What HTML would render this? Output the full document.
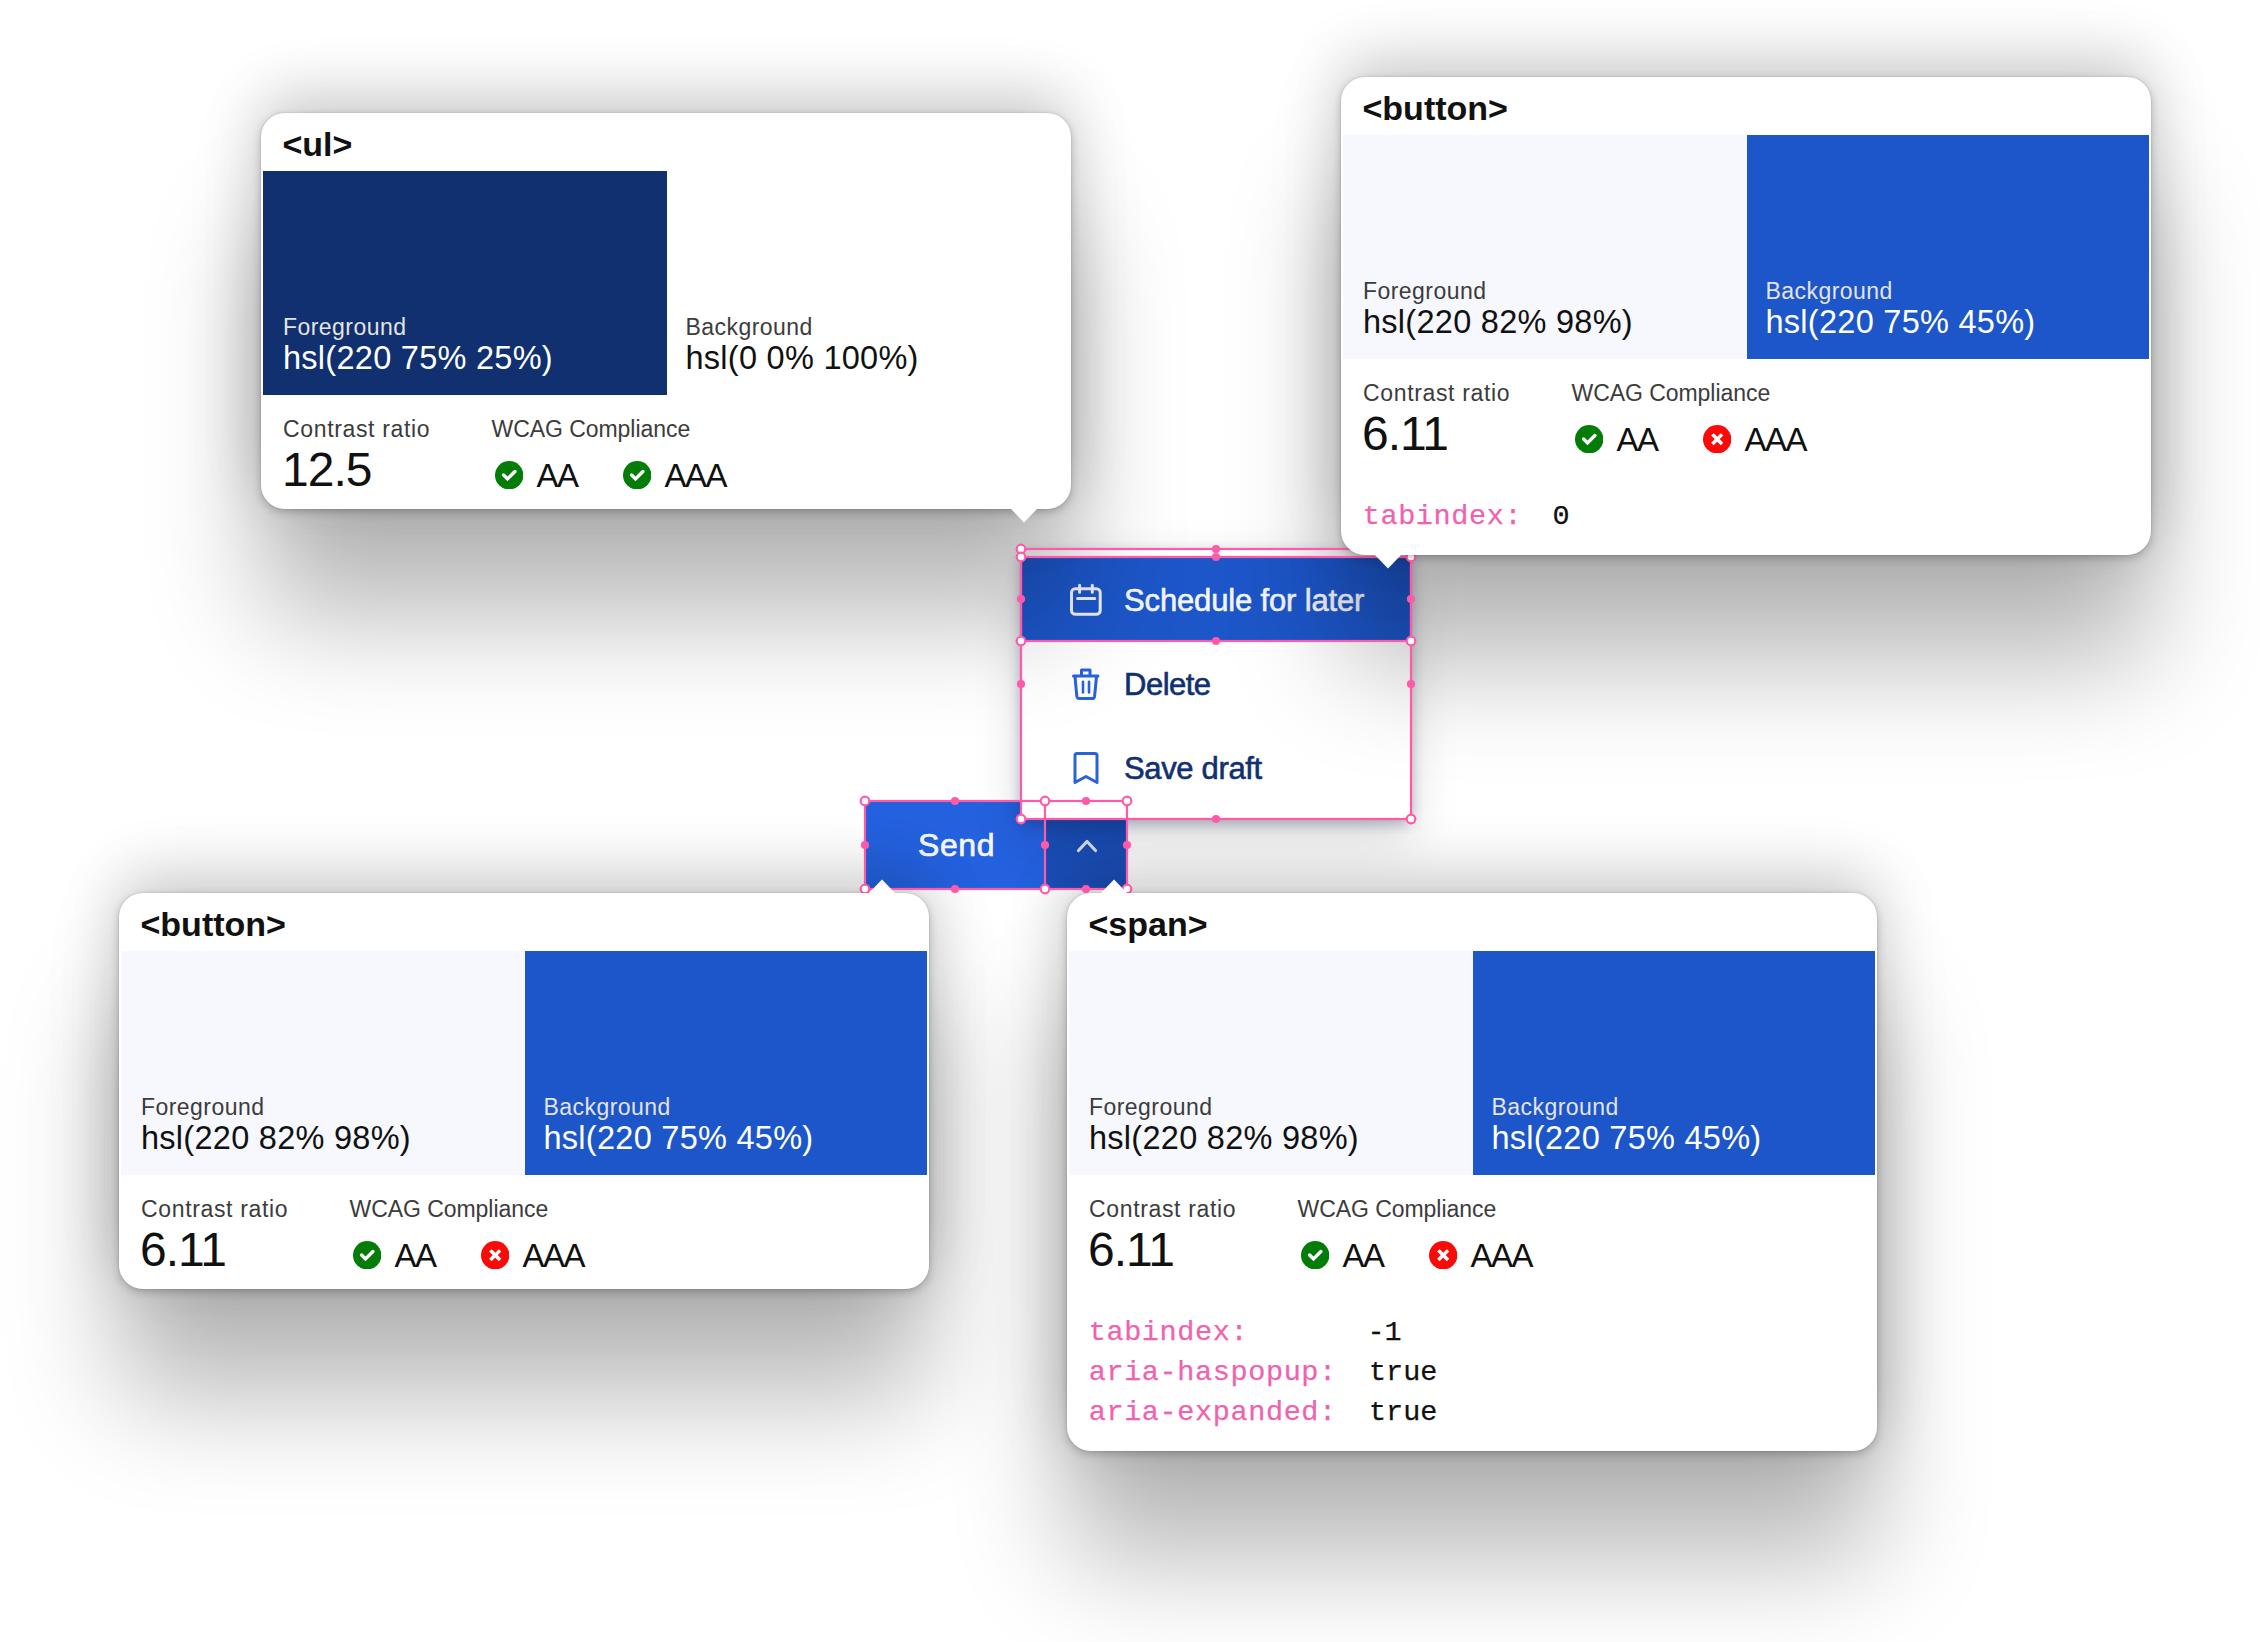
<!DOCTYPE html>
<html><head><meta charset="utf-8"><style>
html,body{margin:0;padding:0;}
body{width:2260px;height:1642px;position:relative;overflow:hidden;background:#fff;font-family:'Liberation Sans', sans-serif;}
.abs{position:absolute;}
.t{position:absolute;white-space:pre;}
.card{position:absolute;background:#fff;border-radius:24px;box-shadow:0 0 1.5px rgba(0,0,0,0.25), 0 3px 8px rgba(0,0,0,0.22);}
.menu{position:absolute;background:#fff;border-radius:7px;box-shadow:0 5px 14px rgba(20,35,80,0.32), 0 18px 50px rgba(0,0,0,0.14);}
</style></head><body>
<div class="abs" style="left:865px;top:801px;width:262px;height:88px;border-radius:7px;overflow:hidden;"><div class="abs" style="left:0;top:0;width:180px;height:88px;background:#2461de"></div><div class="abs" style="left:180px;top:0;width:82px;height:88px;background:#1b4eb8"></div></div>
<div class="t" style="left:918.00px;top:829.41px;font-size:32px;line-height:32px;color:#f4f6fc;font-weight:400;font-family:'Liberation Sans', sans-serif;letter-spacing:0.6px;-webkit-text-stroke:0.7px #f4f6fc;">Send</div>
<svg class="abs" style="left:1070px;top:830px" width="40" height="30"><path d="M8.5 20.5 L17 11.5 L25.5 20.5" fill="none" stroke="#dfe3ee" stroke-width="3.2" stroke-linecap="round" stroke-linejoin="round"/></svg>
<div class="menu" style="left:1021px;top:549px;width:390px;height:270px;"></div>
<div class="abs" style="left:1021px;top:557px;width:390px;height:84px;background:#1d56c9"></div>
<svg class="abs" style="left:1060px;top:575px" width="50" height="50"><rect x="11.5" y="13.7" width="28.7" height="25.6" rx="3.8" fill="none" stroke="#eef1f8" stroke-width="3"/><path d="M19.6 10.2 V17.2 M32.3 10.2 V17.2 M17.6 23.4 H34.8" fill="none" stroke="#eef1f8" stroke-width="3" stroke-linecap="round"/></svg>
<div class="t" style="left:1124.00px;top:585.25px;font-size:31px;line-height:31px;color:#f4f6fc;font-weight:400;font-family:'Liberation Sans', sans-serif;letter-spacing:-0.15px;-webkit-text-stroke:0.6px #f4f6fc;">Schedule for later</div>
<svg class="abs" style="left:1060px;top:660px" width="50" height="50"><path d="M13.5 16 H38" fill="none" stroke="#2a62dc" stroke-width="3" stroke-linecap="round"/><path d="M21.5 15.5 V10 H30 V15.5" fill="none" stroke="#2a62dc" stroke-width="3" stroke-linejoin="round"/><path d="M15 16.5 L16.8 36.2 Q17.2 38.5 19.5 38.5 H32 Q34.3 38.5 34.6 36.2 L36.5 16.5" fill="none" stroke="#2a62dc" stroke-width="3" stroke-linejoin="round"/><path d="M23 21.8 V32.4 M29 21.8 V32.4" fill="none" stroke="#2a62dc" stroke-width="2.6" stroke-linecap="round"/></svg>
<div class="t" style="left:1124.00px;top:669.25px;font-size:31px;line-height:31px;color:#103070;font-weight:400;font-family:'Liberation Sans', sans-serif;letter-spacing:-0.5px;-webkit-text-stroke:0.6px #103070;">Delete</div>
<svg class="abs" style="left:1060px;top:745px" width="50" height="50"><path d="M15 37.5 V10.5 Q15 8.5 17 8.5 H35 Q37 8.5 37 10.5 V37.5 L26 31.5 Z" fill="none" stroke="#2a62dc" stroke-width="3" stroke-linejoin="round"/></svg>
<div class="t" style="left:1124.00px;top:753.25px;font-size:31px;line-height:31px;color:#103070;font-weight:400;font-family:'Liberation Sans', sans-serif;letter-spacing:-0.35px;-webkit-text-stroke:0.6px #103070;">Save draft</div>
<div class="abs" style="left:261px;top:113px;width:810px;height:396px;border-radius:24px;box-shadow:0 -20px 60px rgba(0,0,0,0.15), 0 0 80px rgba(0,0,0,0.10), 0 110px 112px rgba(0,0,0,0.27);"></div>
<div class="abs" style="left:1341px;top:77px;width:810px;height:478px;border-radius:24px;box-shadow:0 -20px 60px rgba(0,0,0,0.15), 0 0 80px rgba(0,0,0,0.10), 0 110px 112px rgba(0,0,0,0.27);"></div>
<div class="abs" style="left:119px;top:893px;width:810px;height:396px;border-radius:24px;box-shadow:0 -20px 60px rgba(0,0,0,0.15), 0 0 80px rgba(0,0,0,0.10), 0 110px 112px rgba(0,0,0,0.27);"></div>
<div class="abs" style="left:1067px;top:893px;width:810px;height:558px;border-radius:24px;box-shadow:0 -20px 60px rgba(0,0,0,0.15), 0 0 80px rgba(0,0,0,0.10), 0 110px 112px rgba(0,0,0,0.27);"></div>
<svg class="abs" style="left:0;top:0" width="2260" height="1642"><defs><mask id="hm" maskUnits="userSpaceOnUse" x="0" y="0" width="2260" height="1642"><rect x="0" y="0" width="2260" height="1642" fill="#fff"/><circle cx="1021" cy="549" r="3.6" fill="#000"/><circle cx="1411" cy="549" r="3.6" fill="#000"/><circle cx="1021" cy="819" r="3.6" fill="#000"/><circle cx="1411" cy="819" r="3.6" fill="#000"/><circle cx="1021" cy="557" r="3.6" fill="#000"/><circle cx="1411" cy="557" r="3.6" fill="#000"/><circle cx="1021" cy="641" r="3.6" fill="#000"/><circle cx="1411" cy="641" r="3.6" fill="#000"/><circle cx="865" cy="801" r="3.6" fill="#000"/><circle cx="1045" cy="801" r="3.6" fill="#000"/><circle cx="1127" cy="801" r="3.6" fill="#000"/><circle cx="865" cy="889" r="3.6" fill="#000"/><circle cx="1045" cy="889" r="3.6" fill="#000"/><circle cx="1127" cy="889" r="3.6" fill="#000"/></mask></defs><g mask="url(#hm)"><rect x="1021" y="549" width="390" height="270" fill="none" stroke="#ff5aa9" stroke-width="2.2"/><rect x="1021" y="557" width="390" height="84" fill="none" stroke="#ff5aa9" stroke-width="2.2"/><rect x="865" y="801" width="262" height="88" fill="none" stroke="#ff5aa9" stroke-width="2.2"/><line x1="1045" y1="801" x2="1045" y2="889" stroke="#ff5aa9" stroke-width="2.2"/></g><circle cx="1216" cy="549" r="4.1" fill="#ff5aa9"/><circle cx="1021" cy="684" r="4.1" fill="#ff5aa9"/><circle cx="1411" cy="684" r="4.1" fill="#ff5aa9"/><circle cx="1216" cy="819" r="4.1" fill="#ff5aa9"/><circle cx="1216" cy="557" r="4.1" fill="#ff5aa9"/><circle cx="1021" cy="599" r="4.1" fill="#ff5aa9"/><circle cx="1411" cy="599" r="4.1" fill="#ff5aa9"/><circle cx="1216" cy="641" r="4.1" fill="#ff5aa9"/><circle cx="955" cy="801" r="4.1" fill="#ff5aa9"/><circle cx="1086" cy="801" r="4.1" fill="#ff5aa9"/><circle cx="955" cy="889" r="4.1" fill="#ff5aa9"/><circle cx="1086" cy="889" r="4.1" fill="#ff5aa9"/><circle cx="865" cy="845" r="4.1" fill="#ff5aa9"/><circle cx="1045" cy="845" r="4.1" fill="#ff5aa9"/><circle cx="1127" cy="845" r="4.1" fill="#ff5aa9"/><circle cx="1021" cy="549" r="4.3" fill="#fff" stroke="#ff5aa9" stroke-width="2.2"/><circle cx="1411" cy="549" r="4.3" fill="#fff" stroke="#ff5aa9" stroke-width="2.2"/><circle cx="1021" cy="819" r="4.3" fill="#fff" stroke="#ff5aa9" stroke-width="2.2"/><circle cx="1411" cy="819" r="4.3" fill="#fff" stroke="#ff5aa9" stroke-width="2.2"/><circle cx="1021" cy="557" r="4.3" fill="#fff" stroke="#ff5aa9" stroke-width="2.2"/><circle cx="1411" cy="557" r="4.3" fill="#fff" stroke="#ff5aa9" stroke-width="2.2"/><circle cx="1021" cy="641" r="4.3" fill="#fff" stroke="#ff5aa9" stroke-width="2.2"/><circle cx="1411" cy="641" r="4.3" fill="#fff" stroke="#ff5aa9" stroke-width="2.2"/><circle cx="865" cy="801" r="4.3" fill="#fff" stroke="#ff5aa9" stroke-width="2.2"/><circle cx="1045" cy="801" r="4.3" fill="#fff" stroke="#ff5aa9" stroke-width="2.2"/><circle cx="1127" cy="801" r="4.3" fill="#fff" stroke="#ff5aa9" stroke-width="2.2"/><circle cx="865" cy="889" r="4.3" fill="#fff" stroke="#ff5aa9" stroke-width="2.2"/><circle cx="1045" cy="889" r="4.3" fill="#fff" stroke="#ff5aa9" stroke-width="2.2"/><circle cx="1127" cy="889" r="4.3" fill="#fff" stroke="#ff5aa9" stroke-width="2.2"/></svg>
<div class="card" style="left:261px;top:113px;width:810px;height:396px;"></div>
<svg class="abs" style="left:1010px;top:508px" width="28" height="16"><path d="M0 0 L28 0 L14 14.5 Z" fill="#fff"/></svg>
<div class="t" style="left:282.50px;top:126.71px;font-size:34px;line-height:34px;color:#111;font-weight:700;font-family:'Liberation Sans', sans-serif;letter-spacing:0px;">&lt;ul&gt;</div>
<div class="abs" style="left:263px;top:171px;width:404px;height:224px;background:#103070"></div>
<div class="abs" style="left:667px;top:171px;width:402px;height:224px;background:#ffffff"></div>
<div class="t" style="left:283.00px;top:315.53px;font-size:23px;line-height:23px;color:#e4e3e0;font-weight:400;font-family:'Liberation Sans', sans-serif;letter-spacing:0.45px;">Foreground</div>
<div class="t" style="left:283.00px;top:341.98px;font-size:32.5px;line-height:32.5px;color:#ffffff;font-weight:400;font-family:'Liberation Sans', sans-serif;letter-spacing:0.27px;">hsl(220 75% 25%)</div>
<div class="t" style="left:685.50px;top:315.53px;font-size:23px;line-height:23px;color:#3c3c3c;font-weight:400;font-family:'Liberation Sans', sans-serif;letter-spacing:0.45px;">Background</div>
<div class="t" style="left:685.50px;top:341.98px;font-size:32.5px;line-height:32.5px;color:#111111;font-weight:400;font-family:'Liberation Sans', sans-serif;letter-spacing:0.27px;">hsl(0 0% 100%)</div>
<div class="t" style="left:283.00px;top:417.53px;font-size:23px;line-height:23px;color:#3c3c3c;font-weight:400;font-family:'Liberation Sans', sans-serif;letter-spacing:0.65px;">Contrast ratio</div>
<div class="t" style="left:282.00px;top:446.36px;font-size:48px;line-height:48px;color:#111;font-weight:400;font-family:'Liberation Sans', sans-serif;letter-spacing:-1px;">12.5</div>
<div class="t" style="left:491.50px;top:417.53px;font-size:23px;line-height:23px;color:#3c3c3c;font-weight:400;font-family:'Liberation Sans', sans-serif;letter-spacing:-0.05px;">WCAG Compliance</div>
<svg class="abs" style="left:494.5px;top:460.5px" width="28.4" height="28.4"><circle cx="14.2" cy="14.2" r="14.2" fill="#047d08"/><path d="M8.6 14.0 L12.5 17.9 L19.9 10.5" fill="none" stroke="#fff" stroke-width="3.4" stroke-linecap="round" stroke-linejoin="miter"/></svg>
<svg class="abs" style="left:622.5px;top:460.5px" width="28.4" height="28.4"><circle cx="14.2" cy="14.2" r="14.2" fill="#047d08"/><path d="M8.6 14.0 L12.5 17.9 L19.9 10.5" fill="none" stroke="#fff" stroke-width="3.4" stroke-linecap="round" stroke-linejoin="miter"/></svg>
<div class="t" style="left:536.50px;top:459.06px;font-size:33px;line-height:33px;color:#111;font-weight:400;font-family:'Liberation Sans', sans-serif;letter-spacing:-1.5px;">AA</div>
<div class="t" style="left:664.50px;top:459.06px;font-size:33px;line-height:33px;color:#111;font-weight:400;font-family:'Liberation Sans', sans-serif;letter-spacing:-1.5px;">AAA</div>
<div class="card" style="left:1341px;top:77px;width:810px;height:478px;"></div>
<svg class="abs" style="left:1374px;top:554px" width="28" height="16"><path d="M0 0 L28 0 L14 14.5 Z" fill="#fff"/></svg>
<div class="t" style="left:1362.50px;top:90.71px;font-size:34px;line-height:34px;color:#111;font-weight:700;font-family:'Liberation Sans', sans-serif;letter-spacing:0px;">&lt;button&gt;</div>
<div class="abs" style="left:1343px;top:135px;width:404px;height:224px;background:#f6f8fe"></div>
<div class="abs" style="left:1747px;top:135px;width:402px;height:224px;background:#1d56c9"></div>
<div class="t" style="left:1363.00px;top:279.53px;font-size:23px;line-height:23px;color:#3c3c3c;font-weight:400;font-family:'Liberation Sans', sans-serif;letter-spacing:0.45px;">Foreground</div>
<div class="t" style="left:1363.00px;top:305.98px;font-size:32.5px;line-height:32.5px;color:#111111;font-weight:400;font-family:'Liberation Sans', sans-serif;letter-spacing:0.27px;">hsl(220 82% 98%)</div>
<div class="t" style="left:1765.50px;top:279.53px;font-size:23px;line-height:23px;color:#e4e3e0;font-weight:400;font-family:'Liberation Sans', sans-serif;letter-spacing:0.45px;">Background</div>
<div class="t" style="left:1765.50px;top:305.98px;font-size:32.5px;line-height:32.5px;color:#ffffff;font-weight:400;font-family:'Liberation Sans', sans-serif;letter-spacing:0.27px;">hsl(220 75% 45%)</div>
<div class="t" style="left:1363.00px;top:381.53px;font-size:23px;line-height:23px;color:#3c3c3c;font-weight:400;font-family:'Liberation Sans', sans-serif;letter-spacing:0.65px;">Contrast ratio</div>
<div class="t" style="left:1362.00px;top:410.36px;font-size:48px;line-height:48px;color:#111;font-weight:400;font-family:'Liberation Sans', sans-serif;letter-spacing:-1px;">6.11</div>
<div class="t" style="left:1571.50px;top:381.53px;font-size:23px;line-height:23px;color:#3c3c3c;font-weight:400;font-family:'Liberation Sans', sans-serif;letter-spacing:-0.05px;">WCAG Compliance</div>
<svg class="abs" style="left:1574.5px;top:424.5px" width="28.4" height="28.4"><circle cx="14.2" cy="14.2" r="14.2" fill="#047d08"/><path d="M8.6 14.0 L12.5 17.9 L19.9 10.5" fill="none" stroke="#fff" stroke-width="3.4" stroke-linecap="round" stroke-linejoin="miter"/></svg>
<svg class="abs" style="left:1702.5px;top:424.5px" width="28.4" height="28.4"><circle cx="14.2" cy="14.2" r="14.2" fill="#fb0a0a"/><path d="M10.6 10.6 L17.8 17.8 M17.8 10.6 L10.6 17.8" fill="none" stroke="#fff" stroke-width="3.5" stroke-linecap="square"/></svg>
<div class="t" style="left:1616.50px;top:423.06px;font-size:33px;line-height:33px;color:#111;font-weight:400;font-family:'Liberation Sans', sans-serif;letter-spacing:-1.5px;">AA</div>
<div class="t" style="left:1744.50px;top:423.06px;font-size:33px;line-height:33px;color:#111;font-weight:400;font-family:'Liberation Sans', sans-serif;letter-spacing:-1.5px;">AAA</div>
<div class="t" style="left:1362.70px;top:502.67px;font-size:28.5px;line-height:28.5px;color:#f062ae;font-weight:400;font-family:'Liberation Mono', monospace;letter-spacing:0.62px;-webkit-text-stroke:0.25px #f062ae;">tabindex:</div>
<div class="t" style="left:1552.50px;top:502.67px;font-size:28.5px;line-height:28.5px;color:#111;font-weight:400;font-family:'Liberation Mono', monospace;letter-spacing:0px;-webkit-text-stroke:0.25px #111;">0</div>
<div class="card" style="left:119px;top:893px;width:810px;height:396px;"></div>
<svg class="abs" style="left:868px;top:878px" width="28" height="16"><path d="M0 16 L28 16 L14 1.5 Z" fill="#fff"/></svg>
<div class="t" style="left:140.50px;top:906.71px;font-size:34px;line-height:34px;color:#111;font-weight:700;font-family:'Liberation Sans', sans-serif;letter-spacing:0px;">&lt;button&gt;</div>
<div class="abs" style="left:121px;top:951px;width:404px;height:224px;background:#f6f8fe"></div>
<div class="abs" style="left:525px;top:951px;width:402px;height:224px;background:#1d56c9"></div>
<div class="t" style="left:141.00px;top:1095.53px;font-size:23px;line-height:23px;color:#3c3c3c;font-weight:400;font-family:'Liberation Sans', sans-serif;letter-spacing:0.45px;">Foreground</div>
<div class="t" style="left:141.00px;top:1121.98px;font-size:32.5px;line-height:32.5px;color:#111111;font-weight:400;font-family:'Liberation Sans', sans-serif;letter-spacing:0.27px;">hsl(220 82% 98%)</div>
<div class="t" style="left:543.50px;top:1095.53px;font-size:23px;line-height:23px;color:#e4e3e0;font-weight:400;font-family:'Liberation Sans', sans-serif;letter-spacing:0.45px;">Background</div>
<div class="t" style="left:543.50px;top:1121.98px;font-size:32.5px;line-height:32.5px;color:#ffffff;font-weight:400;font-family:'Liberation Sans', sans-serif;letter-spacing:0.27px;">hsl(220 75% 45%)</div>
<div class="t" style="left:141.00px;top:1197.53px;font-size:23px;line-height:23px;color:#3c3c3c;font-weight:400;font-family:'Liberation Sans', sans-serif;letter-spacing:0.65px;">Contrast ratio</div>
<div class="t" style="left:140.00px;top:1226.36px;font-size:48px;line-height:48px;color:#111;font-weight:400;font-family:'Liberation Sans', sans-serif;letter-spacing:-1px;">6.11</div>
<div class="t" style="left:349.50px;top:1197.53px;font-size:23px;line-height:23px;color:#3c3c3c;font-weight:400;font-family:'Liberation Sans', sans-serif;letter-spacing:-0.05px;">WCAG Compliance</div>
<svg class="abs" style="left:352.5px;top:1240.5px" width="28.4" height="28.4"><circle cx="14.2" cy="14.2" r="14.2" fill="#047d08"/><path d="M8.6 14.0 L12.5 17.9 L19.9 10.5" fill="none" stroke="#fff" stroke-width="3.4" stroke-linecap="round" stroke-linejoin="miter"/></svg>
<svg class="abs" style="left:480.5px;top:1240.5px" width="28.4" height="28.4"><circle cx="14.2" cy="14.2" r="14.2" fill="#fb0a0a"/><path d="M10.6 10.6 L17.8 17.8 M17.8 10.6 L10.6 17.8" fill="none" stroke="#fff" stroke-width="3.5" stroke-linecap="square"/></svg>
<div class="t" style="left:394.50px;top:1239.06px;font-size:33px;line-height:33px;color:#111;font-weight:400;font-family:'Liberation Sans', sans-serif;letter-spacing:-1.5px;">AA</div>
<div class="t" style="left:522.50px;top:1239.06px;font-size:33px;line-height:33px;color:#111;font-weight:400;font-family:'Liberation Sans', sans-serif;letter-spacing:-1.5px;">AAA</div>
<div class="card" style="left:1067px;top:893px;width:810px;height:558px;"></div>
<svg class="abs" style="left:1100px;top:878px" width="28" height="16"><path d="M0 16 L28 16 L14 1.5 Z" fill="#fff"/></svg>
<div class="t" style="left:1088.50px;top:906.71px;font-size:34px;line-height:34px;color:#111;font-weight:700;font-family:'Liberation Sans', sans-serif;letter-spacing:0px;">&lt;span&gt;</div>
<div class="abs" style="left:1069px;top:951px;width:404px;height:224px;background:#f6f8fe"></div>
<div class="abs" style="left:1473px;top:951px;width:402px;height:224px;background:#1d56c9"></div>
<div class="t" style="left:1089.00px;top:1095.53px;font-size:23px;line-height:23px;color:#3c3c3c;font-weight:400;font-family:'Liberation Sans', sans-serif;letter-spacing:0.45px;">Foreground</div>
<div class="t" style="left:1089.00px;top:1121.98px;font-size:32.5px;line-height:32.5px;color:#111111;font-weight:400;font-family:'Liberation Sans', sans-serif;letter-spacing:0.27px;">hsl(220 82% 98%)</div>
<div class="t" style="left:1491.50px;top:1095.53px;font-size:23px;line-height:23px;color:#e4e3e0;font-weight:400;font-family:'Liberation Sans', sans-serif;letter-spacing:0.45px;">Background</div>
<div class="t" style="left:1491.50px;top:1121.98px;font-size:32.5px;line-height:32.5px;color:#ffffff;font-weight:400;font-family:'Liberation Sans', sans-serif;letter-spacing:0.27px;">hsl(220 75% 45%)</div>
<div class="t" style="left:1089.00px;top:1197.53px;font-size:23px;line-height:23px;color:#3c3c3c;font-weight:400;font-family:'Liberation Sans', sans-serif;letter-spacing:0.65px;">Contrast ratio</div>
<div class="t" style="left:1088.00px;top:1226.36px;font-size:48px;line-height:48px;color:#111;font-weight:400;font-family:'Liberation Sans', sans-serif;letter-spacing:-1px;">6.11</div>
<div class="t" style="left:1297.50px;top:1197.53px;font-size:23px;line-height:23px;color:#3c3c3c;font-weight:400;font-family:'Liberation Sans', sans-serif;letter-spacing:-0.05px;">WCAG Compliance</div>
<svg class="abs" style="left:1300.5px;top:1240.5px" width="28.4" height="28.4"><circle cx="14.2" cy="14.2" r="14.2" fill="#047d08"/><path d="M8.6 14.0 L12.5 17.9 L19.9 10.5" fill="none" stroke="#fff" stroke-width="3.4" stroke-linecap="round" stroke-linejoin="miter"/></svg>
<svg class="abs" style="left:1428.5px;top:1240.5px" width="28.4" height="28.4"><circle cx="14.2" cy="14.2" r="14.2" fill="#fb0a0a"/><path d="M10.6 10.6 L17.8 17.8 M17.8 10.6 L10.6 17.8" fill="none" stroke="#fff" stroke-width="3.5" stroke-linecap="square"/></svg>
<div class="t" style="left:1342.50px;top:1239.06px;font-size:33px;line-height:33px;color:#111;font-weight:400;font-family:'Liberation Sans', sans-serif;letter-spacing:-1.5px;">AA</div>
<div class="t" style="left:1470.50px;top:1239.06px;font-size:33px;line-height:33px;color:#111;font-weight:400;font-family:'Liberation Sans', sans-serif;letter-spacing:-1.5px;">AAA</div>
<div class="t" style="left:1088.70px;top:1318.67px;font-size:28.5px;line-height:28.5px;color:#f062ae;font-weight:400;font-family:'Liberation Mono', monospace;letter-spacing:0.62px;-webkit-text-stroke:0.25px #f062ae;">tabindex:</div>
<div class="t" style="left:1367.50px;top:1318.67px;font-size:28.5px;line-height:28.5px;color:#111;font-weight:400;font-family:'Liberation Mono', monospace;letter-spacing:0px;-webkit-text-stroke:0.25px #111;">-1</div>
<div class="t" style="left:1088.70px;top:1358.67px;font-size:28.5px;line-height:28.5px;color:#f062ae;font-weight:400;font-family:'Liberation Mono', monospace;letter-spacing:0.62px;-webkit-text-stroke:0.25px #f062ae;">aria-haspopup:</div>
<div class="t" style="left:1369.00px;top:1358.67px;font-size:28.5px;line-height:28.5px;color:#111;font-weight:400;font-family:'Liberation Mono', monospace;letter-spacing:0px;-webkit-text-stroke:0.25px #111;">true</div>
<div class="t" style="left:1088.70px;top:1398.67px;font-size:28.5px;line-height:28.5px;color:#f062ae;font-weight:400;font-family:'Liberation Mono', monospace;letter-spacing:0.62px;-webkit-text-stroke:0.25px #f062ae;">aria-expanded:</div>
<div class="t" style="left:1369.00px;top:1398.67px;font-size:28.5px;line-height:28.5px;color:#111;font-weight:400;font-family:'Liberation Mono', monospace;letter-spacing:0px;-webkit-text-stroke:0.25px #111;">true</div>
</body></html>
